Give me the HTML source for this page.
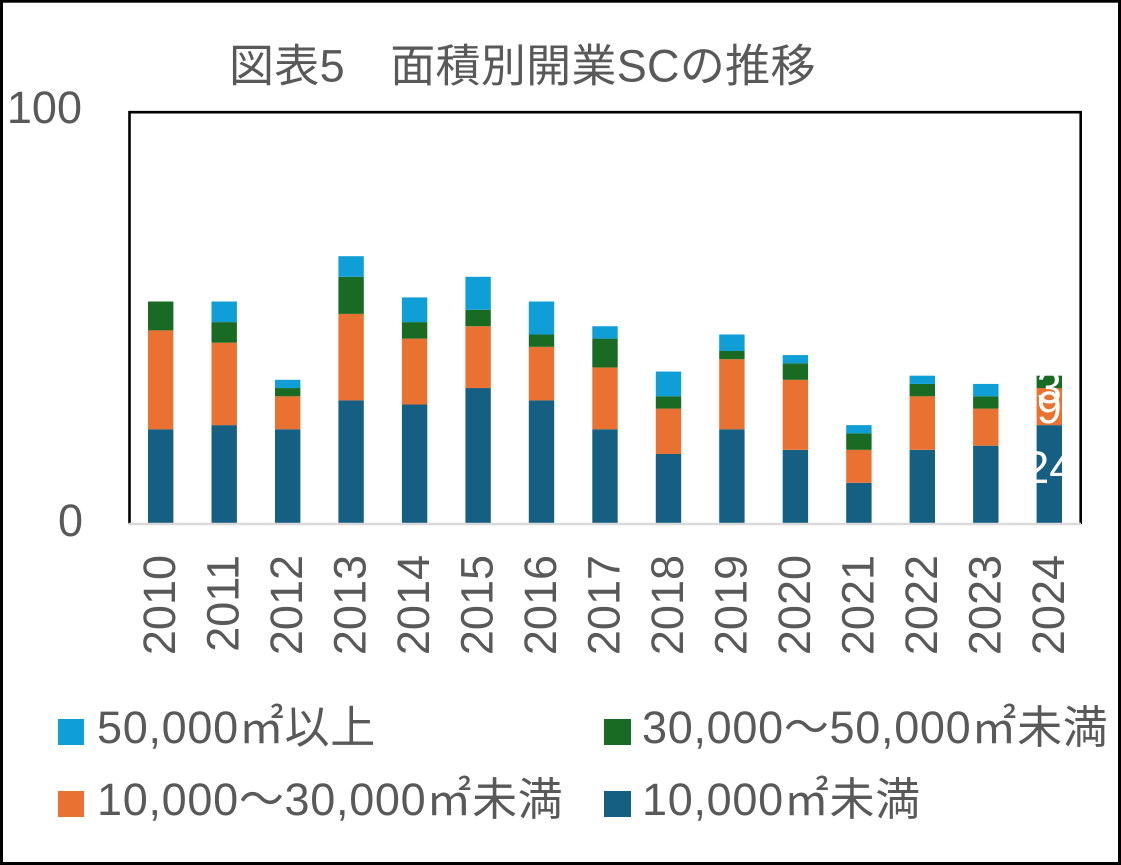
<!DOCTYPE html>
<html><head><meta charset="utf-8"><style>
html,body{margin:0;padding:0;background:#fff;}
svg{display:block;}
text{font-family:"Liberation Sans","Noto Sans CJK JP",sans-serif;fill:#595959;}
.lg{letter-spacing:0.7px;}
</style></head><body>
<svg width="1121" height="865" viewBox="0 0 1121 865" xmlns="http://www.w3.org/2000/svg">
<rect x="0" y="0" width="1121" height="865" fill="#fff"/>
<text x="229" y="81.5" font-size="45" style="letter-spacing:0.3px">図表5　面積別開業SCの推移</text>
<text x="82" y="123" font-size="45" text-anchor="end">100</text>
<text x="83" y="536" font-size="45" text-anchor="end">0</text>
<g>
<rect x="148.0" y="429.24" width="25.4" height="94.76" fill="#156082"/>
<rect x="148.0" y="330.36" width="25.4" height="98.88" fill="#E97132"/>
<rect x="148.0" y="301.52" width="25.4" height="28.84" fill="#196B24"/>
<rect x="211.5" y="425.12" width="25.4" height="98.88" fill="#156082"/>
<rect x="211.5" y="342.72" width="25.4" height="82.4" fill="#E97132"/>
<rect x="211.5" y="322.12" width="25.4" height="20.6" fill="#196B24"/>
<rect x="211.5" y="301.52" width="25.4" height="20.6" fill="#0F9ED5"/>
<rect x="275.0" y="429.24" width="25.4" height="94.76" fill="#156082"/>
<rect x="275.0" y="396.28" width="25.4" height="32.96" fill="#E97132"/>
<rect x="275.0" y="388.04" width="25.4" height="8.24" fill="#196B24"/>
<rect x="275.0" y="379.8" width="25.4" height="8.24" fill="#0F9ED5"/>
<rect x="338.4" y="400.4" width="25.4" height="123.6" fill="#156082"/>
<rect x="338.4" y="313.88" width="25.4" height="86.52" fill="#E97132"/>
<rect x="338.4" y="276.8" width="25.4" height="37.08" fill="#196B24"/>
<rect x="338.4" y="256.2" width="25.4" height="20.6" fill="#0F9ED5"/>
<rect x="401.9" y="404.52" width="25.4" height="119.48" fill="#156082"/>
<rect x="401.9" y="338.6" width="25.4" height="65.92" fill="#E97132"/>
<rect x="401.9" y="322.12" width="25.4" height="16.48" fill="#196B24"/>
<rect x="401.9" y="297.4" width="25.4" height="24.72" fill="#0F9ED5"/>
<rect x="465.4" y="388.04" width="25.4" height="135.96" fill="#156082"/>
<rect x="465.4" y="326.24" width="25.4" height="61.8" fill="#E97132"/>
<rect x="465.4" y="309.76" width="25.4" height="16.48" fill="#196B24"/>
<rect x="465.4" y="276.8" width="25.4" height="32.96" fill="#0F9ED5"/>
<rect x="528.8" y="400.4" width="25.4" height="123.6" fill="#156082"/>
<rect x="528.8" y="346.84" width="25.4" height="53.56" fill="#E97132"/>
<rect x="528.8" y="334.48" width="25.4" height="12.36" fill="#196B24"/>
<rect x="528.8" y="301.52" width="25.4" height="32.96" fill="#0F9ED5"/>
<rect x="592.3" y="429.24" width="25.4" height="94.76" fill="#156082"/>
<rect x="592.3" y="367.44" width="25.4" height="61.8" fill="#E97132"/>
<rect x="592.3" y="338.6" width="25.4" height="28.84" fill="#196B24"/>
<rect x="592.3" y="326.24" width="25.4" height="12.36" fill="#0F9ED5"/>
<rect x="655.8" y="453.96" width="25.4" height="70.04" fill="#156082"/>
<rect x="655.8" y="408.64" width="25.4" height="45.32" fill="#E97132"/>
<rect x="655.8" y="396.28" width="25.4" height="12.36" fill="#196B24"/>
<rect x="655.8" y="371.56" width="25.4" height="24.72" fill="#0F9ED5"/>
<rect x="719.2" y="429.24" width="25.4" height="94.76" fill="#156082"/>
<rect x="719.2" y="359.2" width="25.4" height="70.04" fill="#E97132"/>
<rect x="719.2" y="350.96" width="25.4" height="8.24" fill="#196B24"/>
<rect x="719.2" y="334.48" width="25.4" height="16.48" fill="#0F9ED5"/>
<rect x="782.7" y="449.84" width="25.4" height="74.16" fill="#156082"/>
<rect x="782.7" y="379.8" width="25.4" height="70.04" fill="#E97132"/>
<rect x="782.7" y="363.32" width="25.4" height="16.48" fill="#196B24"/>
<rect x="782.7" y="355.08" width="25.4" height="8.24" fill="#0F9ED5"/>
<rect x="846.2" y="482.8" width="25.4" height="41.2" fill="#156082"/>
<rect x="846.2" y="449.84" width="25.4" height="32.96" fill="#E97132"/>
<rect x="846.2" y="433.36" width="25.4" height="16.48" fill="#196B24"/>
<rect x="846.2" y="425.12" width="25.4" height="8.24" fill="#0F9ED5"/>
<rect x="909.6" y="449.84" width="25.4" height="74.16" fill="#156082"/>
<rect x="909.6" y="396.28" width="25.4" height="53.56" fill="#E97132"/>
<rect x="909.6" y="383.92" width="25.4" height="12.36" fill="#196B24"/>
<rect x="909.6" y="375.68" width="25.4" height="8.24" fill="#0F9ED5"/>
<rect x="973.1" y="445.72" width="25.4" height="78.28" fill="#156082"/>
<rect x="973.1" y="408.64" width="25.4" height="37.08" fill="#E97132"/>
<rect x="973.1" y="396.28" width="25.4" height="12.36" fill="#196B24"/>
<rect x="973.1" y="383.92" width="25.4" height="12.36" fill="#0F9ED5"/>
<rect x="1036.6" y="425.12" width="25.4" height="98.88" fill="#156082"/>
<rect x="1036.6" y="388.04" width="25.4" height="37.08" fill="#E97132"/>
<rect x="1036.6" y="375.68" width="25.4" height="12.36" fill="#196B24"/>
</g>
<g font-size="45" text-anchor="middle">
<text x="1049.3" y="483" style="fill:#fff">24</text>
<text x="1049.3" y="423" style="fill:#fff">9</text>
<text x="1049.3" y="403" style="fill:#fff">3</text>
</g>
<path d="M129.5,524 V112.2 H1080.7 V524" fill="none" stroke="#000" stroke-width="2.6"/>
<line x1="128.5" y1="524" x2="1081" y2="524" stroke="#d9d9d9" stroke-width="2.6"/>
<g font-size="45" text-anchor="end">
<text transform="translate(175.2,555) rotate(-90)">2010</text>
<text transform="translate(238.7,555) rotate(-90)">2011</text>
<text transform="translate(302.2,555) rotate(-90)">2012</text>
<text transform="translate(365.6,555) rotate(-90)">2013</text>
<text transform="translate(429.1,555) rotate(-90)">2014</text>
<text transform="translate(492.6,555) rotate(-90)">2015</text>
<text transform="translate(556.0,555) rotate(-90)">2016</text>
<text transform="translate(619.5,555) rotate(-90)">2017</text>
<text transform="translate(683.0,555) rotate(-90)">2018</text>
<text transform="translate(746.4,555) rotate(-90)">2019</text>
<text transform="translate(809.9,555) rotate(-90)">2020</text>
<text transform="translate(873.4,555) rotate(-90)">2021</text>
<text transform="translate(936.8,555) rotate(-90)">2022</text>
<text transform="translate(1000.3,555) rotate(-90)">2023</text>
<text transform="translate(1063.8,555) rotate(-90)">2024</text>
</g>
<rect x="58" y="719" width="26" height="26" fill="#0F9ED5"/>
<text class="lg" x="97" y="743" font-size="45">50,000㎡以上</text>
<rect x="604" y="719" width="27" height="26" fill="#196B24"/>
<text class="lg" x="642" y="743" font-size="45">30,000～50,000㎡未満</text>
<rect x="58" y="791" width="26" height="26" fill="#E97132"/>
<text class="lg" x="97" y="815" font-size="45">10,000～30,000㎡未満</text>
<rect x="604" y="791" width="27" height="26" fill="#156082"/>
<text class="lg" x="642" y="815" font-size="45">10,000㎡未満</text>
<rect x="1.5" y="1.2" width="1118" height="862.3" fill="none" stroke="#000" stroke-width="3"/>
</svg>
</body></html>
